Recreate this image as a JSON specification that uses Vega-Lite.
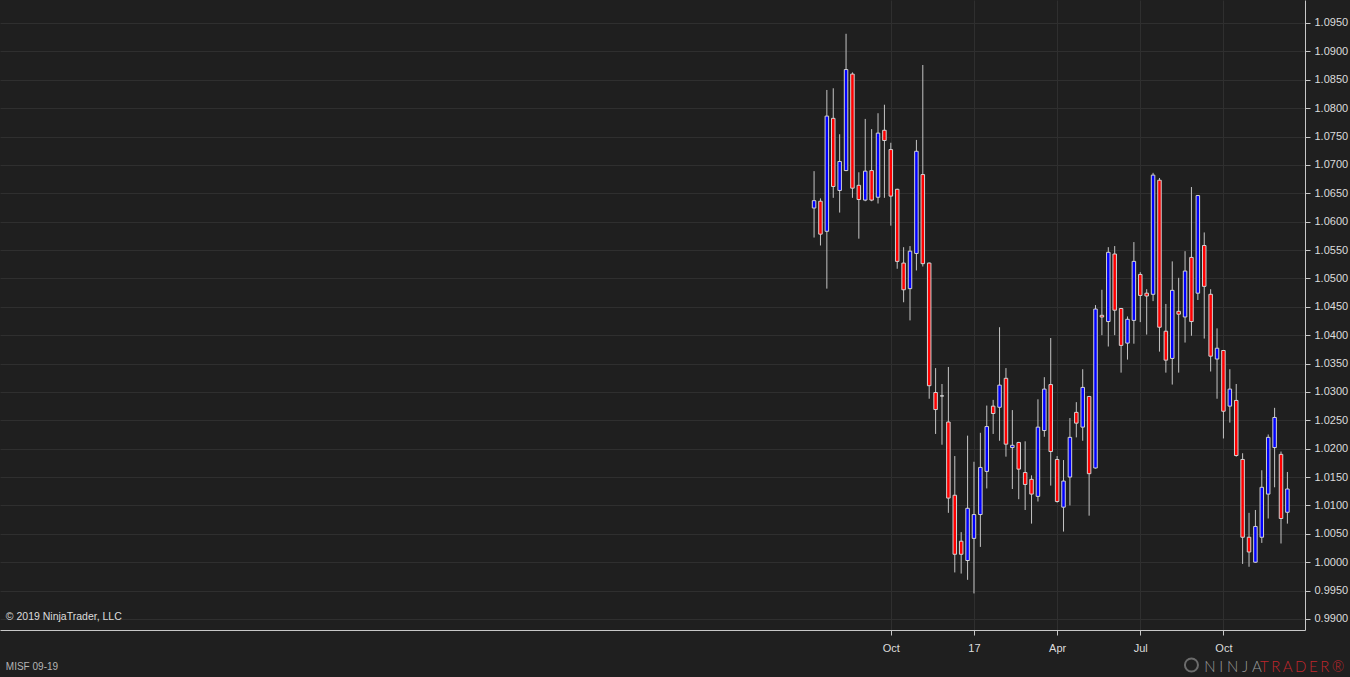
{
  "$schema": "https://vega.github.io/schema/vega-lite/v6.json",
  "autosize": {"type": "none"},
  "width": 1305,
  "height": 630,
  "padding": {"left": 0, "top": 0, "right": 45, "bottom": 47},
  "background": "#1f1f1f",
  "config": {
    "view": {"stroke": null},
    "axis": {
      "labelFont": "Liberation Sans",
      "labelFontSize": 11,
      "labelColor": "#dcdcdc",
      "domainColor": "#c8c8c8",
      "tickColor": "#c8c8c8",
      "gridColor": "#2f2f2f",
      "gridWidth": 1,
      "tickSize": 5,
      "labelOverlap": false,
      "title": null
    }
  },
  "datasets": {
    "candles": [
      {"d": "2016-07-11", "o": 1.0624, "h": 1.0689, "l": 1.0572, "c": 1.0637},
      {"d": "2016-07-18", "o": 1.0636, "h": 1.0641, "l": 1.0558, "c": 1.0578},
      {"d": "2016-07-25", "o": 1.0583, "h": 1.0832, "l": 1.0482, "c": 1.0786},
      {"d": "2016-08-01", "o": 1.0782, "h": 1.0835, "l": 1.0642, "c": 1.0662},
      {"d": "2016-08-08", "o": 1.0655, "h": 1.0754, "l": 1.0616, "c": 1.0706},
      {"d": "2016-08-15", "o": 1.0690, "h": 1.0931, "l": 1.0689, "c": 1.0868},
      {"d": "2016-08-22", "o": 1.0860, "h": 1.0863, "l": 1.0642, "c": 1.0659},
      {"d": "2016-08-29", "o": 1.0664, "h": 1.0687, "l": 1.0570, "c": 1.0639},
      {"d": "2016-09-05", "o": 1.0638, "h": 1.0781, "l": 1.0636, "c": 1.0689},
      {"d": "2016-09-12", "o": 1.0690, "h": 1.0763, "l": 1.0636, "c": 1.0638},
      {"d": "2016-09-19", "o": 1.0643, "h": 1.0791, "l": 1.0632, "c": 1.0756},
      {"d": "2016-09-26", "o": 1.0761, "h": 1.0806, "l": 1.0642, "c": 1.0743},
      {"d": "2016-10-03", "o": 1.0727, "h": 1.0739, "l": 1.0593, "c": 1.0645},
      {"d": "2016-10-10", "o": 1.0657, "h": 1.0658, "l": 1.0517, "c": 1.0530},
      {"d": "2016-10-17", "o": 1.0527, "h": 1.0555, "l": 1.0458, "c": 1.0480},
      {"d": "2016-10-24", "o": 1.0482, "h": 1.0557, "l": 1.0426, "c": 1.0548},
      {"d": "2016-10-31", "o": 1.0544, "h": 1.0744, "l": 1.0514, "c": 1.0724},
      {"d": "2016-11-07", "o": 1.0683, "h": 1.0876, "l": 1.0521, "c": 1.0526},
      {"d": "2016-11-14", "o": 1.0527, "h": 1.0528, "l": 1.0288, "c": 1.0311},
      {"d": "2016-11-21", "o": 1.0299, "h": 1.0342, "l": 1.0226, "c": 1.0269},
      {"d": "2016-11-28", "o": 1.0293, "h": 1.0314, "l": 1.0207, "c": 1.0293},
      {"d": "2016-12-05", "o": 1.0247, "h": 1.0344, "l": 1.0087, "c": 1.0113},
      {"d": "2016-12-12", "o": 1.0118, "h": 1.0187, "l": 0.9982, "c": 1.0014},
      {"d": "2016-12-19", "o": 1.0037, "h": 1.0053, "l": 0.9980, "c": 1.0014},
      {"d": "2016-12-26", "o": 1.0003, "h": 1.0223, "l": 0.9969, "c": 1.0095},
      {"d": "2017-01-02", "o": 1.0042, "h": 1.0177, "l": 0.9945, "c": 1.0084},
      {"d": "2017-01-09", "o": 1.0084, "h": 1.0228, "l": 1.0027, "c": 1.0167},
      {"d": "2017-01-16", "o": 1.0160, "h": 1.0276, "l": 1.0130, "c": 1.0239},
      {"d": "2017-01-23", "o": 1.0275, "h": 1.0286, "l": 1.0226, "c": 1.0262},
      {"d": "2017-01-30", "o": 1.0273, "h": 1.0414, "l": 1.0214, "c": 1.0312},
      {"d": "2017-02-06", "o": 1.0324, "h": 1.0342, "l": 1.0186, "c": 1.0208},
      {"d": "2017-02-13", "o": 1.0202, "h": 1.0268, "l": 1.0129, "c": 1.0206},
      {"d": "2017-02-20", "o": 1.0211, "h": 1.0212, "l": 1.0111, "c": 1.0164},
      {"d": "2017-02-27", "o": 1.0158, "h": 1.0213, "l": 1.0092, "c": 1.0137},
      {"d": "2017-03-06", "o": 1.0146, "h": 1.0153, "l": 1.0068, "c": 1.0120},
      {"d": "2017-03-13", "o": 1.0116, "h": 1.0287, "l": 1.0107, "c": 1.0238},
      {"d": "2017-03-20", "o": 1.0232, "h": 1.0326, "l": 1.0221, "c": 1.0305},
      {"d": "2017-03-27", "o": 1.0313, "h": 1.0395, "l": 1.0135, "c": 1.0195},
      {"d": "2017-04-03", "o": 1.0181, "h": 1.0187, "l": 1.0105, "c": 1.0107},
      {"d": "2017-04-10", "o": 1.0097, "h": 1.0180, "l": 1.0054, "c": 1.0143},
      {"d": "2017-04-17", "o": 1.0150, "h": 1.0254, "l": 1.0100, "c": 1.0220},
      {"d": "2017-04-24", "o": 1.0264, "h": 1.0282, "l": 1.0220, "c": 1.0245},
      {"d": "2017-05-01", "o": 1.0238, "h": 1.0340, "l": 1.0214, "c": 1.0308},
      {"d": "2017-05-08", "o": 1.0292, "h": 1.0293, "l": 1.0082, "c": 1.0156},
      {"d": "2017-05-15", "o": 1.0166, "h": 1.0453, "l": 1.0165, "c": 1.0446},
      {"d": "2017-05-22", "o": 1.0435, "h": 1.0480, "l": 1.0400, "c": 1.0432},
      {"d": "2017-05-29", "o": 1.0424, "h": 1.0555, "l": 1.0380, "c": 1.0546},
      {"d": "2017-06-05", "o": 1.0543, "h": 1.0557, "l": 1.0400, "c": 1.0444},
      {"d": "2017-06-12", "o": 1.0447, "h": 1.0448, "l": 1.0334, "c": 1.0382},
      {"d": "2017-06-19", "o": 1.0386, "h": 1.0433, "l": 1.0357, "c": 1.0428},
      {"d": "2017-06-26", "o": 1.0426, "h": 1.0564, "l": 1.0385, "c": 1.0530},
      {"d": "2017-07-03", "o": 1.0507, "h": 1.0511, "l": 1.0423, "c": 1.0470},
      {"d": "2017-07-10", "o": 1.0474, "h": 1.0481, "l": 1.0401, "c": 1.0469},
      {"d": "2017-07-17", "o": 1.0472, "h": 1.0686, "l": 1.0460, "c": 1.0682},
      {"d": "2017-07-24", "o": 1.0673, "h": 1.0677, "l": 1.0371, "c": 1.0414},
      {"d": "2017-07-31", "o": 1.0407, "h": 1.0455, "l": 1.0334, "c": 1.0356},
      {"d": "2017-08-07", "o": 1.0359, "h": 1.0530, "l": 1.0313, "c": 1.0479},
      {"d": "2017-08-14", "o": 1.0442, "h": 1.0501, "l": 1.0334, "c": 1.0437},
      {"d": "2017-08-21", "o": 1.0432, "h": 1.0548, "l": 1.0387, "c": 1.0513},
      {"d": "2017-08-28", "o": 1.0537, "h": 1.0661, "l": 1.0399, "c": 1.0424},
      {"d": "2017-09-04", "o": 1.0474, "h": 1.0647, "l": 1.0462, "c": 1.0646},
      {"d": "2017-09-11", "o": 1.0558, "h": 1.0581, "l": 1.0394, "c": 1.0486},
      {"d": "2017-09-18", "o": 1.0472, "h": 1.0481, "l": 1.0336, "c": 1.0363},
      {"d": "2017-09-25", "o": 1.0358, "h": 1.0412, "l": 1.0288, "c": 1.0377},
      {"d": "2017-10-02", "o": 1.0373, "h": 1.0374, "l": 1.0218, "c": 1.0266},
      {"d": "2017-10-09", "o": 1.0275, "h": 1.0340, "l": 1.0246, "c": 1.0305},
      {"d": "2017-10-16", "o": 1.0285, "h": 1.0314, "l": 1.0186, "c": 1.0188},
      {"d": "2017-10-23", "o": 1.0181, "h": 1.0192, "l": 0.9997, "c": 1.0044},
      {"d": "2017-10-30", "o": 1.0044, "h": 1.0087, "l": 0.9992, "c": 1.0018},
      {"d": "2017-11-06", "o": 1.0000, "h": 1.0092, "l": 0.9999, "c": 1.0063},
      {"d": "2017-11-13", "o": 1.0044, "h": 1.0162, "l": 1.0034, "c": 1.0132},
      {"d": "2017-11-20", "o": 1.0120, "h": 1.0225, "l": 1.0077, "c": 1.0220},
      {"d": "2017-11-27", "o": 1.0202, "h": 1.0272, "l": 1.0132, "c": 1.0255},
      {"d": "2017-12-04", "o": 1.0190, "h": 1.0195, "l": 1.0033, "c": 1.0077},
      {"d": "2017-12-11", "o": 1.0088, "h": 1.0159, "l": 1.0068, "c": 1.0129}
    ]
  },
  "layer": [
    {
      "data": {"name": "candles"},
      "mark": {"type": "rule", "color": "#c4c4c4", "strokeWidth": 1},
      "encoding": {
        "x": {
          "field": "d", "type": "temporal",
          "scale": {"type": "utc", "nice": false, "domain": [{"year": 2014, "month": 2, "date": 6, "hours": 14, "utc": true}, {"year": 2017, "month": 12, "date": 24, "hours": 19, "utc": true}]},
          "axis": {
            "orient": "bottom", "grid": true, "labelPadding": 7, "tickCount": 30,
            "values": [{"year": 2016, "month": 10, "date": 3, "utc": true}, {"year": 2017, "month": 1, "date": 2, "utc": true}, {"year": 2017, "month": 4, "date": 3, "utc": true}, {"year": 2017, "month": 7, "date": 3, "utc": true}, {"year": 2017, "month": 10, "date": 2, "utc": true}],
            "labelExpr": "utcFormat(datum.value, '%m') === '01' ? utcFormat(datum.value, '%y') : utcFormat(datum.value, '%b')"
          }
        },
        "y": {
          "field": "l", "type": "quantitative",
          "scale": {"domain": [0.988058, 1.099052], "nice": false, "zero": false},
          "axis": {
            "orient": "right", "grid": true, "labelPadding": 4, "format": ".4f", "tickCount": 40,
            "values": [0.99, 0.995, 1.0, 1.005, 1.01, 1.015, 1.02, 1.025, 1.03, 1.035, 1.04, 1.045, 1.05, 1.055, 1.06, 1.065, 1.07, 1.075, 1.08, 1.085, 1.09, 1.095]
          }
        },
        "y2": {"field": "h"}
      }
    },
    {
      "data": {"name": "candles"},
      "mark": {"type": "bar", "size": 3.5, "stroke": "#d2d2d2", "strokeWidth": 1, "orient": "vertical"},
      "encoding": {
        "x": {"field": "d", "type": "temporal"},
        "y": {"field": "o", "type": "quantitative"},
        "y2": {"field": "c"},
        "fill": {"condition": {"test": "datum.c > datum.o", "value": "#0000ff"}, "value": "#ff0000"}
      }
    },
    {
      "data": {"values": [{"t": "© 2019 NinjaTrader, LLC"}]},
      "mark": {"type": "text", "align": "left", "baseline": "middle", "font": "Liberation Sans", "fontSize": 10.5, "color": "#dcdcdc"},
      "encoding": {
        "x": {"datum": {"year": 2014, "month": 2, "date": 7, "hours": 12, "utc": true}, "type": "temporal"},
        "y": {"datum": 0.99035, "type": "quantitative"},
        "text": {"field": "t"}
      }
    },
    {
      "data": {"values": [{"t": "MISF 09-19"}]},
      "mark": {"type": "text", "align": "left", "baseline": "middle", "font": "Liberation Sans", "fontSize": 10, "color": "#b4b4b4"},
      "encoding": {
        "x": {"datum": {"year": 2014, "month": 2, "date": 7, "hours": 12, "utc": true}, "type": "temporal"},
        "y": {"datum": 0.98154, "type": "quantitative"},
        "text": {"field": "t"}
      }
    },
    {
      "data": {"values": [{"t": "logo"}]},
      "mark": {"type": "point", "shape": "circle", "size": 170, "filled": false, "stroke": "#8c8c8c", "strokeWidth": 2},
      "encoding": {
        "x": {"datum": {"year": 2017, "month": 8, "date": 28, "utc": true}, "type": "temporal"},
        "y": {"datum": 0.98189, "type": "quantitative"}
      }
    },
    {
      "data": {"values": [{"t": "N\u2005I\u2005N\u2005J\u2005A"}]},
      "mark": {"type": "text", "align": "left", "baseline": "middle", "font": "Lato", "fontWeight": 300, "fontSize": 15, "color": "#9a9a9a"},
      "encoding": {
        "x": {"datum": {"year": 2017, "month": 9, "date": 11, "utc": true}, "type": "temporal"},
        "y": {"datum": 0.98154, "type": "quantitative"},
        "text": {"field": "t"}
      }
    },
    {
      "data": {"values": [{"t": "T\u2006R\u2006A\u2006D\u2006E\u2006R\u2006®"}]},
      "mark": {"type": "text", "align": "left", "baseline": "middle", "font": "Lato", "fontWeight": 300, "fontSize": 15, "color": "#c0272d"},
      "encoding": {
        "x": {"datum": {"year": 2017, "month": 11, "date": 11, "utc": true}, "type": "temporal"},
        "y": {"datum": 0.98154, "type": "quantitative"},
        "text": {"field": "t"}
      }
    }
  ]
}
